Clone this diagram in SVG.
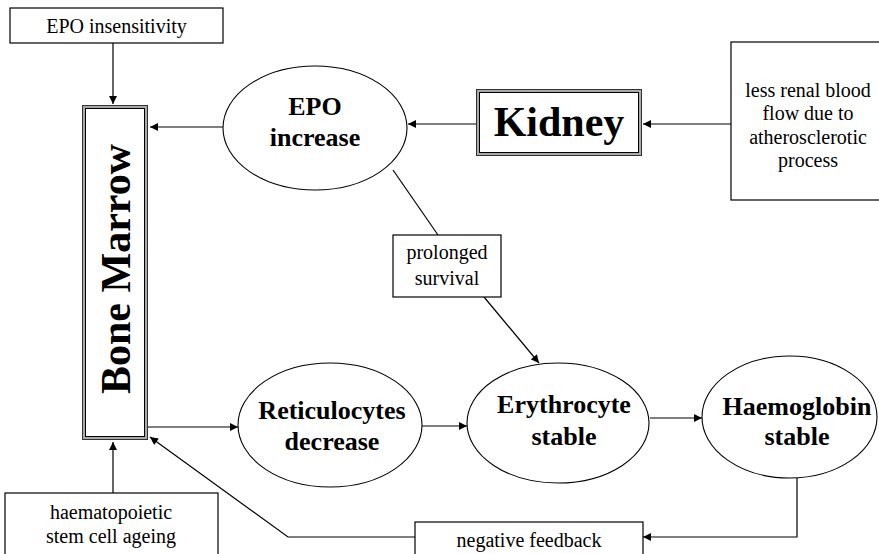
<svg xmlns="http://www.w3.org/2000/svg" width="879" height="554" viewBox="0 0 879 554">
<style>
.box{fill:#fff;stroke:#000;stroke-width:1.2}
.ell{fill:#fff;stroke:#000;stroke-width:1.1}
.t{font-family:"Liberation Serif","Times New Roman",serif;font-size:20px;text-anchor:middle;fill:#000}
.b{font-family:"Liberation Serif","Times New Roman",serif;font-size:26px;font-weight:bold;text-anchor:middle;fill:#000}
.big{font-family:"Liberation Serif","Times New Roman",serif;font-size:42px;font-weight:bold;text-anchor:middle;fill:#000}
.c{fill:none;stroke:#000;stroke-width:1.2}
</style>
<defs>
<marker id="ah" viewBox="0 0 10 10" refX="10" refY="5" markerWidth="9" markerHeight="8" markerUnits="userSpaceOnUse" orient="auto">
<path d="M0,0 L10,5 L0,10 z" fill="#000"/>
</marker>
</defs>
<rect width="879" height="554" fill="#fff"/>
<g id="connectors">
<line class="c" x1="113" y1="43" x2="113" y2="104" marker-end="url(#ah)"/>
<line class="c" x1="223" y1="127" x2="150" y2="127" marker-end="url(#ah)"/>
<line class="c" x1="476" y1="124" x2="408" y2="124" marker-end="url(#ah)"/>
<line class="c" x1="731" y1="124" x2="643" y2="124" marker-end="url(#ah)"/>
<line class="c" x1="393" y1="170" x2="438" y2="235"/>
<line class="c" x1="484" y1="297" x2="539" y2="363" marker-end="url(#ah)"/>
<line class="c" x1="148" y1="427" x2="238" y2="427" marker-end="url(#ah)"/>
<line class="c" x1="422" y1="426" x2="467" y2="426" marker-end="url(#ah)"/>
<line class="c" x1="650" y1="418" x2="702" y2="418" marker-end="url(#ah)"/>
<polyline class="c" points="797,478 797,537 643,537" marker-end="url(#ah)"/>
<polyline class="c" points="415,537 288,537 150,437" marker-end="url(#ah)"/>
<line class="c" x1="113" y1="493" x2="113" y2="442" marker-end="url(#ah)"/>
</g>
<g id="epo-insensitivity">
<rect class="box" x="10" y="8" width="213" height="35"/>
<text class="t" x="116.5" y="33">EPO insensitivity</text>
</g>
<g id="bone-marrow">
<rect x="82.5" y="105.5" width="65" height="334" fill="#fff" stroke="#333" stroke-width="1"/>
<rect x="84" y="107" width="62" height="331" fill="none" stroke="#aaa" stroke-width="2"/>
<rect x="85.5" y="108.5" width="59" height="328" fill="none" stroke="#000" stroke-width="1"/>
<text class="big" transform="translate(130,269) rotate(-90)" x="0" y="0">Bone Marrow</text>
</g>
<g id="epo-increase">
<ellipse class="ell" cx="315" cy="128" rx="92" ry="62"/>
<text class="b" x="315" y="115">EPO</text>
<text class="b" x="315" y="146">increase</text>
</g>
<g id="kidney">
<rect x="476.5" y="89.5" width="165" height="66" fill="#fff" stroke="#333" stroke-width="1"/>
<rect x="478" y="91" width="162" height="63" fill="none" stroke="#aaa" stroke-width="2"/>
<rect x="479.5" y="92.5" width="159" height="60" fill="none" stroke="#000" stroke-width="1"/>
<text class="big" x="559" y="136">Kidney</text>
</g>
<g id="renal-flow">
<rect class="box" x="731" y="42" width="160" height="158"/>
<text class="t" x="808" y="97">less renal blood</text>
<text class="t" x="808" y="120">flow due to</text>
<text class="t" x="808" y="144">atherosclerotic</text>
<text class="t" x="808" y="167">process</text>
</g>
<g id="prolonged-survival">
<rect class="box" x="393" y="235" width="108" height="62"/>
<text class="t" x="447" y="259">prolonged</text>
<text class="t" x="447" y="285">survival</text>
</g>
<g id="reticulocytes">
<ellipse class="ell" cx="330" cy="425" rx="92" ry="62"/>
<text class="b" x="332" y="419">Reticulocytes</text>
<text class="b" x="332" y="450">decrease</text>
</g>
<g id="erythrocyte">
<ellipse class="ell" cx="558" cy="423" rx="91" ry="60"/>
<text class="b" x="564" y="413">Erythrocyte</text>
<text class="b" x="564" y="445">stable</text>
</g>
<g id="haemoglobin">
<ellipse class="ell" cx="789.5" cy="417" rx="87.5" ry="61"/>
<text class="b" x="797" y="415">Haemoglobin</text>
<text class="b" x="797" y="445">stable</text>
</g>
<g id="negative-feedback">
<rect class="box" x="415" y="522" width="228" height="40"/>
<text class="t" x="529" y="547">negative feedback</text>
</g>
<g id="stem-cell-ageing">
<rect class="box" x="5" y="493" width="213" height="70"/>
<text class="t" x="111" y="519">haematopoietic</text>
<text class="t" x="111" y="543">stem cell ageing</text>
</g>
</svg>
